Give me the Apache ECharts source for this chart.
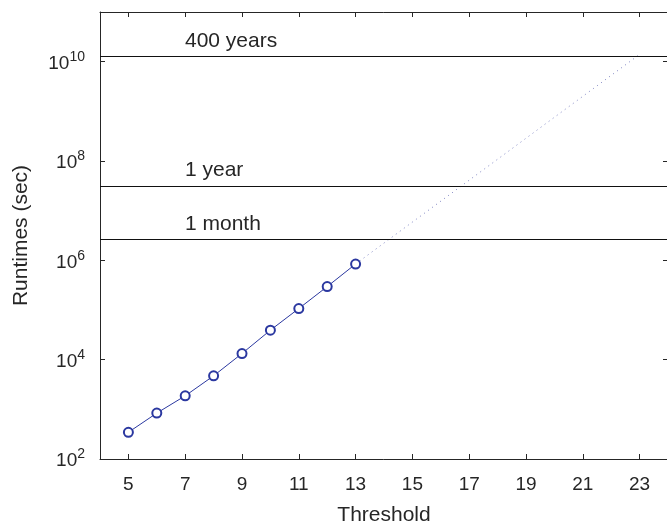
<!DOCTYPE html>
<html lang="en">
<head>
    <meta charset="UTF-8">
    <title>runtimes</title>
    <script type="text/javascript" src="https://cdn.jsdelivr.net/npm/echarts@6/dist/echarts.min.js"></script>
</head>
<body style="margin:0">
    <div id="main" style="width: 667px; height: 523px"></div>
    <script type="text/javascript">
        // measured runtimes per threshold
        var thresholds = [5, 6, 7, 8, 9, 10, 11, 12, 13];
        var runtimes = [345, 840, 1870, 4730, 13300, 39200, 107000, 296000, 843000];
        // extrapolated trend (dotted)
        var trendX = [13, 23];
        var trendY = [843000, 1.4e10];
        // reference durations in seconds
        var refNames = ['400 years', '1 year', '1 month'];
        var refValues = [1.262e10, 3.156e7, 2.63e6];
        var xTicks = [5, 7, 9, 11, 13, 15, 17, 19, 21, 23];
        var yTicks = [1e2, 1e4, 1e6, 1e8, 1e10];

        var ink = '#262626';
        var fontFamily = 'Liberation Sans, Arial, sans-serif';

        function pairs(xs, ys) {
            return xs.map(function (x, i) { return [x, ys[i]]; });
        }

        var myChart = echarts.init(document.getElementById('main'));

        var xBase = {
            type: 'value', min: 4, max: 24,
            splitLine: {show: false},
            axisLine: {lineStyle: {color: ink, width: 1}},
            axisTick: {inside: true, length: 5, customValues: xTicks, lineStyle: {color: ink}}
        };
        var yBase = {
            type: 'log', logBase: 10, min: 1e2, max: 1e11,
            splitLine: {show: false},
            axisLine: {show: true, lineStyle: {color: ink, width: 1}},
            axisTick: {show: true, inside: true, length: 5, customValues: yTicks, lineStyle: {color: ink}}
        };

        option = {
            animation: false,
            textStyle: {fontFamily: fontFamily},
            grid: {left: 100, right: -1, top: 12, bottom: 64, containLabel: false, outerBoundsMode: 'none'},
            xAxis: [
                Object.assign({}, xBase, {
                    position: 'bottom',
                    name: 'Threshold', nameLocation: 'middle', nameGap: 46,
                    nameTextStyle: {fontSize: 21, color: ink, fontFamily: fontFamily},
                    axisLabel: {customValues: xTicks, fontSize: 19, color: ink, margin: 16, fontFamily: fontFamily}
                }),
                Object.assign({}, xBase, {position: 'top', axisLabel: {show: false}})
            ],
            yAxis: [
                Object.assign({}, yBase, {
                    position: 'left',
                    name: 'Runtimes (sec)', nameLocation: 'middle', nameGap: 68,
                    nameTextStyle: {fontSize: 21, color: ink, fontFamily: fontFamily},
                    axisLabel: {
                        customValues: yTicks, margin: 15,
                        formatter: function (v) {
                            return '{b|10}{s|' + Math.round(Math.log10(v)) + '}';
                        },
                        rich: {
                            b: {fontSize: 19, color: ink, fontFamily: fontFamily, verticalAlign: 'bottom'},
                            s: {fontSize: 14, color: ink, fontFamily: fontFamily, padding: [0, 0, 9, 0]}
                        }
                    }
                }),
                Object.assign({}, yBase, {position: 'right', axisLabel: {show: false}})
            ],
            series: [
                {
                    type: 'line',
                    data: pairs(thresholds, runtimes),
                    symbol: 'emptyCircle', symbolSize: 9,
                    lineStyle: {color: '#2b38a0', width: 1},
                    itemStyle: {color: '#2b38a0', borderWidth: 1},
                    z: 3,
                    markLine: {
                        silent: true,
                        symbol: 'none',
                        lineStyle: {color: '#111', width: 1, type: 'solid'},
                        label: {
                            position: 'insideStartTop', formatter: '{b}',
                            fontSize: 21, color: ink, fontFamily: fontFamily,
                            padding: [0, 0, 0, 80]
                        },
                        data: refNames.map(function (n, i) { return {name: n, yAxis: refValues[i]}; })
                    }
                },
                {
                    type: 'line',
                    data: pairs(trendX, trendY),
                    symbol: 'none',
                    lineStyle: {color: '#7b80c0', width: 1, type: [1, 4]},
                    z: 2
                }
            ]
        };

        myChart.setOption(option);
    </script>
</body>
</html>
